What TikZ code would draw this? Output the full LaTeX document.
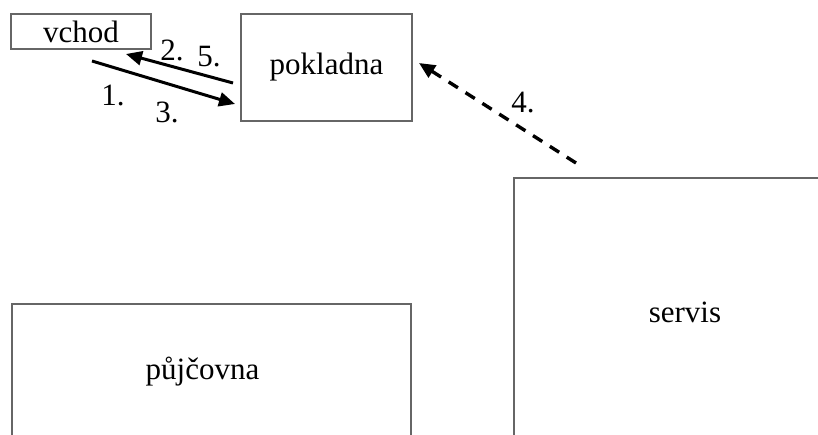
\documentclass[tikz,border=0pt]{standalone}
\usepackage{fontspec}
\setmainfont{Liberation Serif}
\usetikzlibrary{arrows.meta}

\begin{document}
\begin{tikzpicture}[x=1pt,y=-1pt,>={Triangle[length=16pt,width=14pt]},
  font=\fontsize{31}{37}\selectfont,
  room/.style={rectangle,draw=black!60,line width=1.2pt,inner sep=0pt},
  flow/.style={->,line width=3pt},
  back/.style={->,line width=3.4pt,dash pattern=on 11pt off 9pt}]

  \useasboundingbox (0,0) rectangle (818,435);

  \node[room,minimum width=140pt,minimum height=35pt] (vchod) at (81,31.5) {vchod};
  \node[room,minimum width=171pt,minimum height=107pt] (pokladna) at (326.5,67.5) {pokladna};
  \node[room,minimum width=342pt,minimum height=268pt] (servis) at (685,312) {servis};
  \node[room,minimum width=399pt,minimum height=136pt] (pujcovna) at (211.5,372) {\hspace*{-18pt}půjčovna};

  \coordinate (in1) at (92,61);
  \coordinate (in2) at (235,104);
  \coordinate (out1) at (233,83);
  \coordinate (out2) at (126,54);
  \coordinate (ret1) at (576,163);
  \coordinate (ret2) at (419,63);

  \draw[flow] (in1) -- (in2);
  \draw[flow] (out1) -- (out2);
  \draw[back] (ret1) -- (ret2);

  \node (n1) at (113,95) {1.};
  \node (n2) at (172,50) {2.};
  \node (n3) at (167,112) {3.};
  \node (n4) at (523,103) {4.};
  \node (n5) at (209,57) {5.};
\end{tikzpicture}
\end{document}
